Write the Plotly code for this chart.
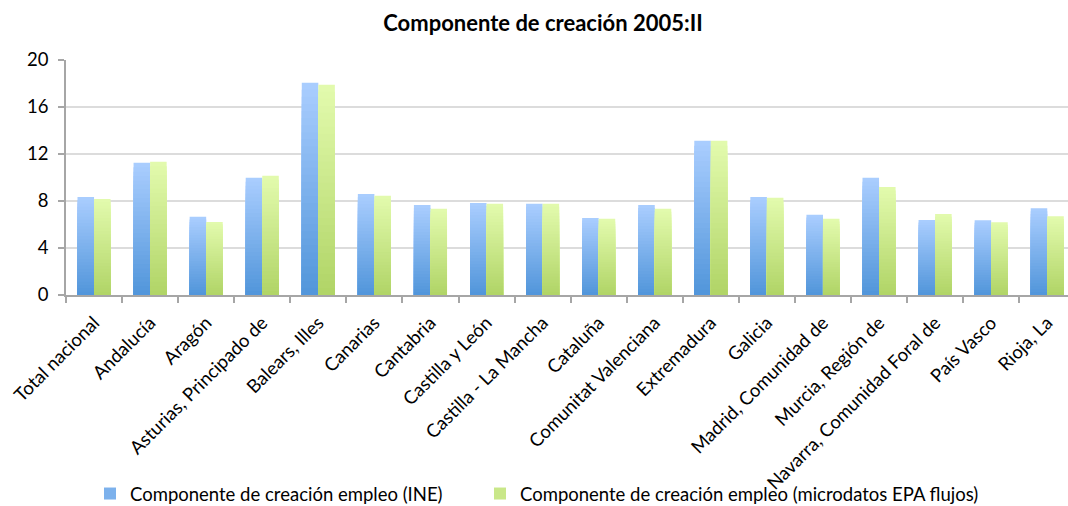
import plotly.graph_objects as go

categories = [
    "Total nacional", "Andalucía", "Aragón", "Asturias, Principado de",
    "Balears, Illes", "Canarias", "Cantabria", "Castilla y León",
    "Castilla - La Mancha", "Cataluña", "Comunitat Valenciana", "Extremadura",
    "Galicia", "Madrid, Comunidad de", "Murcia, Región de",
    "Navarra, Comunidad Foral de", "País Vasco", "Rioja, La",
]
ine_values = [8.35, 11.25, 6.65, 9.97, 18.07, 8.6, 7.67, 7.84, 7.76,
              6.56, 7.67, 13.13, 8.35, 6.82, 9.97, 6.39, 6.36, 7.38]
epa_values = [8.18, 11.33, 6.22, 10.14, 17.9, 8.44, 7.33, 7.76, 7.76,
              6.48, 7.33, 13.13, 8.27, 6.48, 9.2, 6.9, 6.19, 6.7]
series_names = [
    "Componente de creación empleo (INE)",
    "Componente de creación empleo (microdatos EPA flujos)",
]
y_ticks = [0, 4, 8, 12, 16, 20]
title_text = "Componente de creación 2005:II"

FONT = "Lato, 'Liberation Sans', Arial, sans-serif"
N_SEG = 30


def lerp(c1, c2, t):
    return "rgb(%d,%d,%d)" % tuple(round(a + (b - a) * t) for a, b in zip(c1, c2))


grads = [((80, 149, 218), (171, 206, 255)),   # blue: bottom -> top
         ((176, 212, 102), (227, 251, 174))]  # green: bottom -> top
legend_ids = ["legend", "legend2"]

fig = go.Figure()
for s, (vals, name) in enumerate(zip([ine_values, epa_values], series_names)):
    bottom, top = grads[s]
    for i in range(N_SEG):
        frac = (N_SEG - i) / N_SEG          # overlapping layers, tallest first
        t = (N_SEG - i - 0.5) / N_SEG
        fig.add_trace(go.Bar(
            x=categories,
            y=[v * frac for v in vals],
            offsetgroup=str(s),
            name=name,
            legend=legend_ids[s],
            legendgroup=name,
            showlegend=(i == N_SEG // 2),
            marker=dict(color=lerp(bottom, top, t), line=dict(width=0)),
            hoverinfo="all" if i == 0 else "skip",
        ))

legend_common = dict(orientation="h", xref="container", yref="container",
                     xanchor="left", y=12 / 506, yanchor="middle",
                     font=dict(size=18.5), bgcolor="rgba(0,0,0,0)")
fig.update_layout(
    width=1068, height=506,
    margin=dict(l=66, r=0, t=60, b=211, autoexpand=False),
    paper_bgcolor="white", plot_bgcolor="white",
    barmode="group", bargap=0.41, bargroupgap=0,
    font=dict(family=FONT, size=18.5, color="#000000"),
    title=dict(text="<b>" + title_text + "</b>", x=543 / 1068, xref="container",
               xanchor="center", y=1 - 23 / 506, yref="container", yanchor="middle",
               font=dict(size=22, family=FONT)),
    legend=dict(x=90 / 1068, **legend_common),
    legend2=dict(x=480 / 1068, **legend_common),
    showlegend=True,
)
fig.update_xaxes(
    type="category", range=[-0.5, 17.37], automargin=False,
    tickangle=-45, tickson="boundaries", ticks="outside", ticklen=6,
    tickcolor="#A6A6A6", tickwidth=1.5,
    showline=True, linecolor="#A6A6A6", linewidth=1.5,
    showgrid=False, tickfont=dict(size=18.5), ticklabelstandoff=8,
)
fig.update_yaxes(
    range=[0, 20], tickvals=y_ticks, ticktext=[str(v) for v in y_ticks],
    automargin=False,
    ticks="outside", ticklen=6, tickcolor="#A6A6A6", tickwidth=1.5,
    showline=True, linecolor="#A6A6A6", linewidth=1.5,
    showgrid=True, gridcolor="#DCDCDC", gridwidth=1.5,
    zeroline=False, tickfont=dict(size=18.5), ticklabelstandoff=6,
)
fig.write_html(
    "out.html",
    config={"displayModeBar": False},
    post_script="document.body.style.margin='0';document.body.style.overflow='hidden';",
)
